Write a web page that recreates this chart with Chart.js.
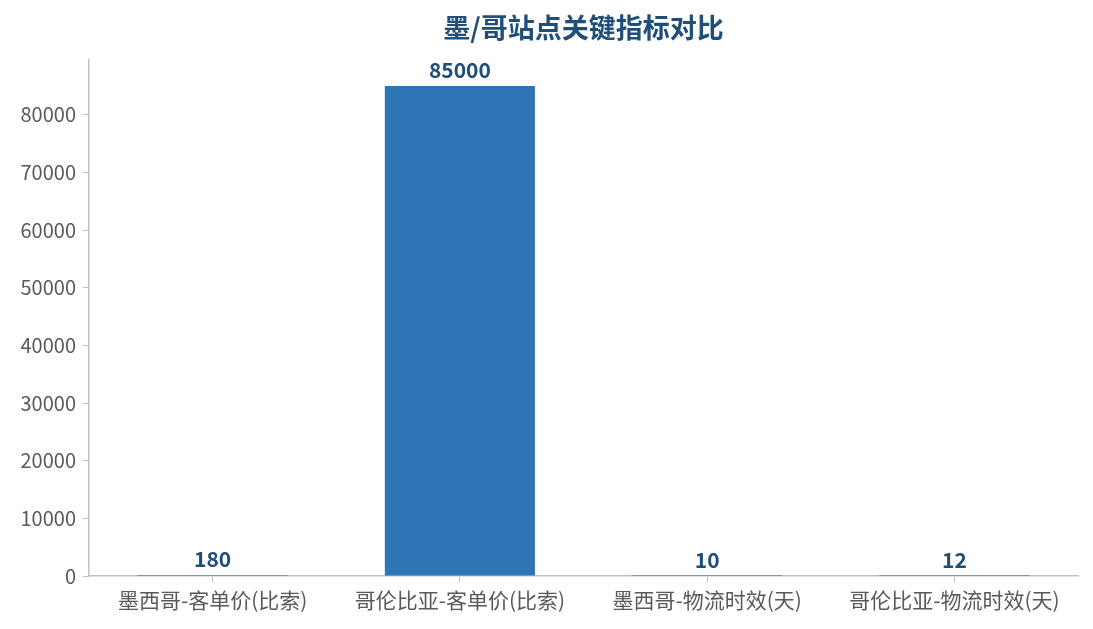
<!DOCTYPE html>
<html>
<head>
<meta charset="utf-8">
<script src="https://cdn.jsdelivr.net/npm/chart.js@4/dist/chart.umd.min.js"></script>
<style>
  html, body { margin: 0; padding: 0; background: #ffffff; }
  #wrap { width: 1093px; height: 629px; position: relative; }
</style>
</head>
<body>
<div id="wrap"><canvas id="c"></canvas></div>
<script>
const titleText = '墨/哥站点关键指标对比';
const categories = ['墨西哥-客单价(比索)', '哥伦比亚-客单价(比索)', '墨西哥-物流时效(天)', '哥伦比亚-物流时效(天)'];
const values = [180, 85000, 10, 12];
const yTicks = [0, 10000, 20000, 30000, 40000, 50000, 60000, 70000, 80000];

const FONT = '"Noto Sans CJK SC", "Noto Sans", sans-serif';
const AXIS_COLOR = '#bfbfbf';
const TEXT_COLOR = '#595959';
const DARK = '#1f4e79';

const titlePlugin = {
  id: 'customTitle',
  afterDraw(chart) {
    const ctx = chart.ctx;
    const a = chart.chartArea;
    ctx.save();
    ctx.font = 'bold 27px ' + FONT;
    ctx.fillStyle = DARK;
    ctx.textAlign = 'center';
    ctx.textBaseline = 'middle';
    ctx.fillText(titleText, (a.left + a.right) / 2, 28);
    ctx.restore();
  }
};

const valueLabels = {
  id: 'valueLabels',
  afterDatasetsDraw(chart) {
    const ctx = chart.ctx;
    const meta = chart.getDatasetMeta(0);
    ctx.save();
    ctx.font = 'bold 21px ' + FONT;
    ctx.fillStyle = DARK;
    ctx.textAlign = 'center';
    ctx.textBaseline = 'bottom';
    meta.data.forEach((bar, i) => {
      ctx.fillText(String(chart.data.datasets[0].data[i]), bar.x, bar.y - 5);
    });
    ctx.restore();
  }
};

new Chart(document.getElementById('c'), {
  type: 'bar',
  data: {
    labels: categories,
    datasets: [{
      data: values,
      backgroundColor: '#2e75b6',
      borderWidth: 0,
      barPercentage: 0.607,
      categoryPercentage: 1.0
    }]
  },
  options: {
    responsive: true,
    maintainAspectRatio: false,
    animation: false,
    layout: { padding: { top: 60, right: 15, left: 0, bottom: 0 } },
    plugins: {
      legend: { display: false },
      title: { display: false },
      tooltip: { enabled: false }
    },
    scales: {
      x: {
        offset: true,
        grid: { display: true, offset: false, drawOnChartArea: false, drawTicks: true, tickLength: 6, color: AXIS_COLOR },
        border: { display: true, color: AXIS_COLOR, width: 1.5 },
        ticks: { color: TEXT_COLOR, font: { family: FONT, size: 21 }, padding: 5, maxRotation: 0, autoSkip: false },
        afterFit(scale) { scale.height = 53; }
      },
      y: {
        min: 0,
        max: 89500,
        grid: { display: true, drawOnChartArea: false, drawTicks: true, tickLength: 6, color: AXIS_COLOR },
        border: { display: true, color: AXIS_COLOR, width: 1.5 },
        ticks: { color: TEXT_COLOR, font: { family: FONT, size: 20 }, padding: 7, callback: v => String(v) },
        afterBuildTicks(scale) { scale.ticks = yTicks.map(v => ({ value: v })); },
        afterFit(scale) { scale.width = 89; }
      }
    }
  },
  plugins: [titlePlugin, valueLabels]
});
</script>
</body>
</html>
